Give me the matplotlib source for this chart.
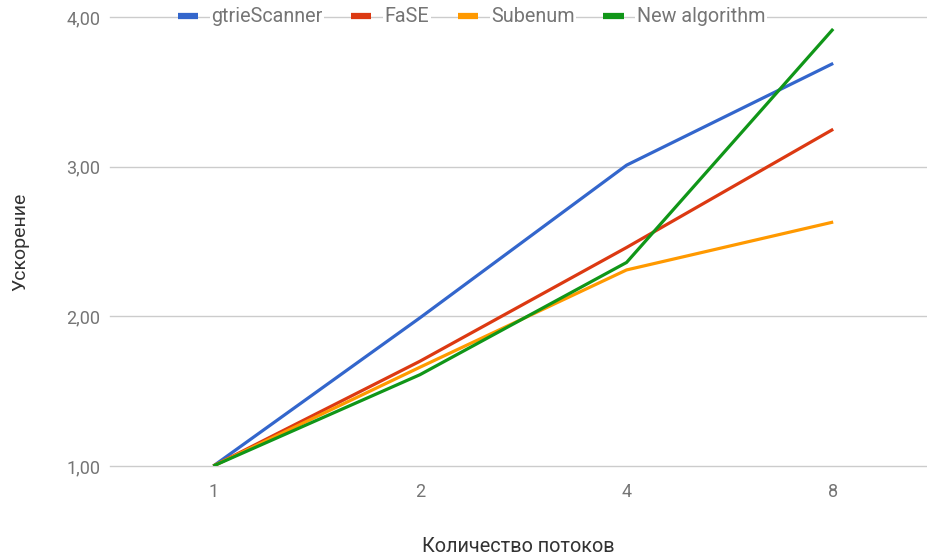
import matplotlib
matplotlib.use("Agg")
import matplotlib.pyplot as plt

plt.rcParams['font.family'] = ['Roboto', 'DejaVu Sans']

threads = ["1", "2", "4", "8"]
gtrie = [1.00, 1.99, 3.01, 3.69]
fase = [1.00, 1.70, 2.46, 3.25]
subenum = [1.00, 1.66, 2.31, 2.63]
new_alg = [1.00, 1.61, 2.36, 3.92]
series_names = ["gtrieScanner", "FaSE", "Subenum", "New algorithm"]
colors = ["#3366CC", "#DC3912", "#FF9900", "#109618"]
y_ticks = [1, 2, 3, 4]
y_tick_labels = ["1,00", "2,00", "3,00", "4,00"]

W, H = 927, 557
fig = plt.figure(figsize=(W / 100, H / 100), dpi=100)
ax = fig.add_axes([110 / W, (H - 466) / H, 817 / W, 449 / H])

x = list(range(len(threads)))
for vals, name, c in zip([gtrie, fase, subenum, new_alg], series_names, colors):
    ax.plot(x, vals, color=c, lw=2.3, label=name, solid_capstyle='butt', zorder=3)

ax.set_xlim(-0.5, 3.454)
ax.set_ylim(1, 4)
ax.set_xticks(x)
ax.set_xticklabels(threads)
ax.set_yticks(y_ticks)
ax.set_yticklabels(y_tick_labels)
ax.grid(axis='y', color='#cccccc', lw=1, zorder=0)
for gl in ax.get_ygridlines():
    gl.set_clip_on(False)
ax.set_axisbelow(True)
for s in ax.spines.values():
    s.set_visible(False)
ax.tick_params(axis='both', length=0, labelsize=13, colors='#757575')
ax.tick_params(axis='x', pad=12)
ax.tick_params(axis='y', pad=7)

ax.set_xlabel("Количество потоков", fontsize=14.3, color='#333333')
ax.xaxis.set_label_coords(0.5, -0.158)
ax.set_ylabel("Ускорение", fontsize=14, color='#333333')
ax.yaxis.set_label_coords(-0.099, 0.5)

leg = ax.legend(loc='center', bbox_to_anchor=(0.4425, 1.0), ncol=4, frameon=False,
                fontsize=14.2, handlelength=1.03, handletextpad=0.67,
                columnspacing=1.44, borderaxespad=0)
for line in leg.get_lines():
    line.set_linewidth(4.5)
for t in leg.get_texts():
    t.set_color('#757575')
    t.set_bbox(dict(facecolor='white', edgecolor='none', pad=1))

fig.savefig("out.png", dpi=100)
